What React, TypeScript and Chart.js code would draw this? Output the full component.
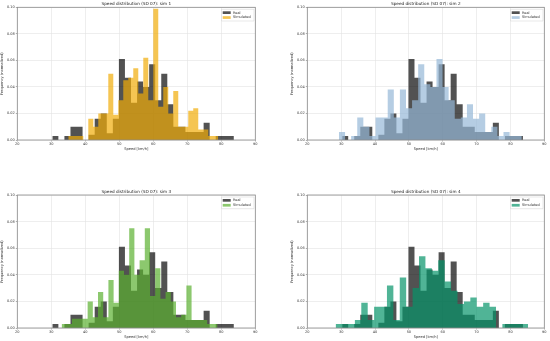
import React, { useEffect, useRef } from "react";
import { Chart, registerables } from "chart.js";

Chart.register(...registerables);

// ---------- data ----------
const X_MIN = 20;
const X_MAX = 90;
const X_STEP = 10;
const Y_MIN = 0;
const Y_MAX = 0.1;
const Y_STEP = 0.02;

const X_LABEL = "Speed [km/h]";
const Y_LABEL = "Frequency (normalized)";
const TITLES = [
  "Speed distribution (SD 07): sim 1",
  "Speed distribution (SD 07): sim 2",
  "Speed distribution (SD 07): sim 3",
  "Speed distribution (SD 07): sim 4",
];
const SERIES_NAMES = ["Real", "Simulated"];

// histogram ranges [first edge, last edge] (30 equal bins each)
const REAL_RANGE = [30.3, 83.7];
const REAL_HEIGHTS = [
  0.003, 0, 0.003, 0.01, 0.01, 0, 0.004, 0.016, 0.02, 0.005,
  0.016, 0.061, 0.047, 0.028, 0.044, 0.04, 0.057, 0.03, 0.05, 0.027,
  0.01, 0.01, 0.006, 0.006, 0.006, 0.013, 0, 0.003, 0.003, 0.003,
];

const SIM1_RANGE = [35.0, 79.1];
const SIM1_HEIGHTS = [
  0.003, 0.003, 0.003, 0, 0.016, 0.01, 0.02, 0.02, 0.05, 0.019,
  0.03, 0.045, 0.047, 0.054, 0.035, 0.062, 0.03, 0.099, 0.025, 0.04,
  0.02, 0.037, 0.01, 0.01, 0.022, 0.024, 0.008, 0.008, 0.003, 0.003,
];

const SIM2_RANGE = [29.35, 83.35];
const SIM2_HEIGHTS = [
  0.006, 0, 0.003, 0.017, 0.01, 0.003, 0.017, 0.017, 0.038, 0.017,
  0.038, 0.024, 0.03, 0.057, 0.042, 0.04, 0.061, 0.04, 0.03, 0.016,
  0.017, 0.027, 0.016, 0.02, 0.006, 0.01, 0.003, 0.006, 0.003, 0.003,
];

const SIM3_RANGE = [33.04, 78.9];
const SIM3_HEIGHTS = [
  0.003, 0.003, 0.007, 0.007, 0.007, 0.02, 0.008, 0.027, 0.008, 0.036,
  0.019, 0.043, 0.04, 0.075, 0.04, 0.051, 0.075, 0.024, 0.045, 0.022,
  0.027, 0.02, 0.008, 0.01, 0.032, 0.006, 0.006, 0.006, 0.003, 0.003,
];

const SIM4_RANGE = [28.37, 85.2];
const SIM4_HEIGHTS = [
  0.003, 0.003, 0.003, 0.006, 0.019, 0.006, 0.016, 0.016, 0.032, 0.006,
  0.038, 0.016, 0.03, 0.054, 0.045, 0.043, 0.051, 0.035, 0.028, 0.018,
  0.02, 0.023, 0.016, 0.019, 0.016, 0, 0.003, 0.003, 0.003, 0.003,
];

const SIM_RANGES = [SIM1_RANGE, SIM2_RANGE, SIM3_RANGE, SIM4_RANGE];
const SIM_HEIGHTS = [SIM1_HEIGHTS, SIM2_HEIGHTS, SIM3_HEIGHTS, SIM4_HEIGHTS];

// ---------- styles ----------
const REAL_COLOR = "rgba(0,0,0,0.68)";
const SIM_COLORS = [
  "rgba(241,172,8,0.7)",
  "rgba(149,184,215,0.7)",
  "rgba(91,176,48,0.7)",
  "rgba(5,148,105,0.7)",
];
const FONT = "'DejaVu Sans', sans-serif";

type PanelLayout = {
  left: number;
  top: number;
  width: number;
  height: number;
  pad: { left: number; right: number; top: number; bottom: number };
};

const PANELS: PanelLayout[] = [
  { left: 0, top: 0, width: 275, height: 170, pad: { left: 0.3, right: 19.7, top: 7.3, bottom: 19 } },
  { left: 275, top: 0, width: 275, height: 170, pad: { left: 15.3, right: 5.7, top: 7.3, bottom: 19 } },
  { left: 0, top: 170, width: 275, height: 171, pad: { left: 0.3, right: 19.7, top: 25, bottom: 2 } },
  { left: 275, top: 170, width: 275, height: 171, pad: { left: 15.3, right: 5.7, top: 25, bottom: 2 } },
];

function histPoints(range: number[], heights: number[]) {
  const n = heights.length;
  const w = (range[1] - range[0]) / n;
  const pts = heights.map((h, i) => ({ x: range[0] + i * w, y: h }));
  pts.push({ x: range[1], y: heights[n - 1] });
  return pts;
}

const decorPlugin = {
  id: "panelDecor",
  afterDatasetsDraw(chart: any, _args: any, opts: any) {
    const { ctx, chartArea: ca } = chart;
    ctx.save();
    // frame
    ctx.strokeStyle = "#8a8a8a";
    ctx.lineWidth = 0.8;
    ctx.strokeRect(ca.left, ca.top, ca.right - ca.left, ca.bottom - ca.top);

    // legend
    const lw = 32.5;
    const lh = 11.7;
    const lx = ca.right - 1.3 - lw;
    const ly = ca.top + 2;
    ctx.fillStyle = "rgba(255,255,255,0.8)";
    ctx.strokeStyle = "#d0d0d0";
    ctx.lineWidth = 0.5;
    ctx.beginPath();
    ctx.rect(lx, ly, lw, lh);
    ctx.fill();
    ctx.stroke();
    const items = opts.items || [];
    ctx.font = `3.5px ${FONT}`;
    ctx.textBaseline = "middle";
    ctx.textAlign = "left";
    items.forEach((it: any, i: number) => {
      const cy = ly + 3.3 + i * 4.9;
      ctx.fillStyle = it.color;
      ctx.fillRect(lx + 1.2, cy - 1.3, 8, 2.7);
      ctx.fillStyle = "#333";
      ctx.fillText(it.label, lx + 11.5, cy);
    });

    // title
    ctx.font = `4.2px ${FONT}`;
    ctx.fillStyle = "#222";
    ctx.textAlign = "center";
    ctx.textBaseline = "middle";
    ctx.fillText(opts.title, (ca.left + ca.right) / 2, ca.top - 3.5);
    ctx.restore();
  },
};

function Panel({ index }: { index: number }) {
  const ref = useRef<HTMLCanvasElement | null>(null);
  const layout = PANELS[index];

  useEffect(() => {
    if (!ref.current) return;
    const simColor = SIM_COLORS[index];
    const chart = new Chart(ref.current, {
      type: "line",
      data: {
        datasets: [
          {
            label: SERIES_NAMES[0],
            data: histPoints(REAL_RANGE, REAL_HEIGHTS),
            backgroundColor: REAL_COLOR,
            borderWidth: 0,
            pointRadius: 0,
            stepped: true,
            fill: "origin",
            order: 2,
          },
          {
            label: SERIES_NAMES[1],
            data: histPoints(SIM_RANGES[index], SIM_HEIGHTS[index]),
            backgroundColor: simColor,
            borderWidth: 0,
            pointRadius: 0,
            stepped: true,
            fill: "origin",
            order: 1,
          },
        ],
      },
      options: {
        animation: false,
        responsive: false,
        maintainAspectRatio: false,
        devicePixelRatio: 1,
        layout: { padding: layout.pad },
        plugins: {
          legend: { display: false },
          title: { display: false },
          tooltip: { enabled: false },
          panelDecor: {
            title: TITLES[index],
            items: [
              { label: SERIES_NAMES[0], color: REAL_COLOR },
              { label: SERIES_NAMES[1], color: simColor },
            ],
          },
        } as any,
        scales: {
          x: {
            type: "linear",
            min: X_MIN,
            max: X_MAX,
            afterFit: (s: any) => {
              s.height = 11;
            },
            ticks: {
              stepSize: X_STEP,
              font: { family: FONT, size: 3.5 },
              color: "#333",
              padding: 0.5,
              maxRotation: 0,
              callback: (v: any) => String(v),
            },
            grid: {
              color: "#e2e2e2",
              lineWidth: 0.6,
              tickLength: 1.5,
              tickColor: "#777",
            },
            border: { display: false },
            title: {
              display: true,
              text: X_LABEL,
              font: { family: FONT, size: 3.6 },
              color: "#333",
              padding: 0,
            },
          },
          y: {
            type: "linear",
            min: Y_MIN,
            max: Y_MAX,
            afterFit: (s: any) => {
              s.width = 17;
            },
            ticks: {
              stepSize: Y_STEP,
              font: { family: FONT, size: 3.5 },
              color: "#333",
              padding: 1,
              callback: (v: any) => Number(v).toFixed(2),
            },
            grid: {
              color: "#e2e2e2",
              lineWidth: 0.6,
              tickLength: 1.5,
              tickColor: "#777",
            },
            border: { display: false },
            title: {
              display: true,
              text: Y_LABEL,
              font: { family: FONT, size: 3.6 },
              color: "#333",
              padding: 0,
            },
          },
        },
      },
      plugins: [decorPlugin],
    } as any);
    return () => chart.destroy();
  }, [index]);

  return (
    <canvas
      ref={ref}
      width={layout.width}
      height={layout.height}
      style={{
        position: "absolute",
        left: layout.left,
        top: layout.top,
        width: layout.width,
        height: layout.height,
      }}
    />
  );
}

export default function App() {
  return (
    <div
      style={{
        position: "absolute",
        left: 0,
        top: 0,
        width: 550,
        height: 341,
        background: "#fff",
        overflow: "hidden",
      }}
    >
      {[0, 1, 2, 3].map((i) => (
        <Panel key={i} index={i} />
      ))}
    </div>
  );
}
